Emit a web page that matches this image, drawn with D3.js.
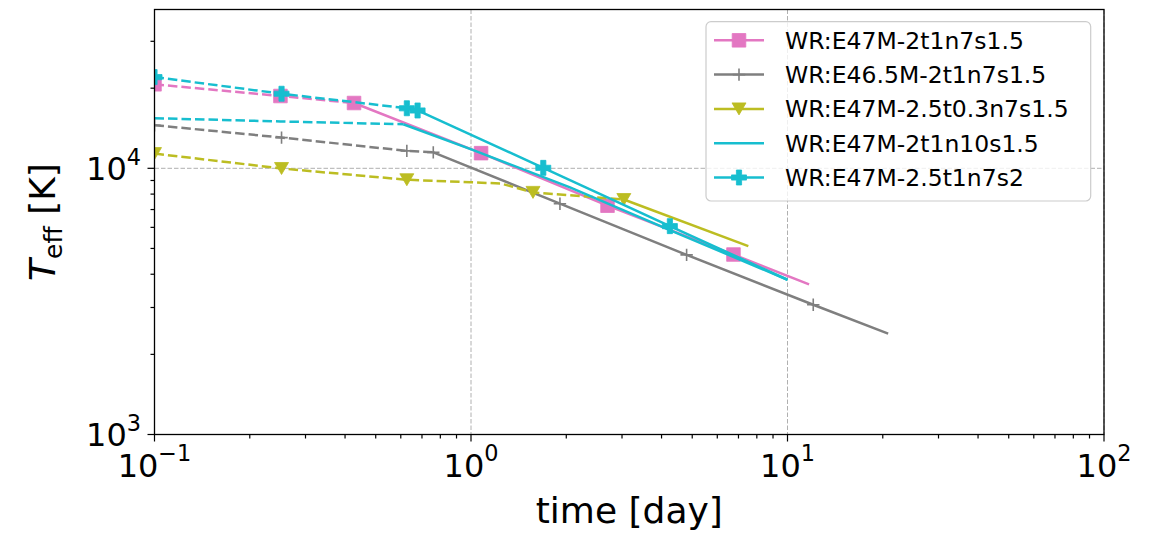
<!DOCTYPE html>
<html>
<head>
<meta charset="utf-8">
<script src="https://cdn.jsdelivr.net/npm/d3@7"></script>
<style>
  html, body { margin: 0; padding: 0; background: #fff; }
  svg { display: block; font-family: "DejaVu Sans", sans-serif; }
</style>
</head>
<body>
<svg id="chart" width="1165" height="536"></svg>
<script>
// ---- data: time [day] and effective temperature [K] ----
// each model has an early (dashed) phase and a late (solid) phase
const seriesLabels = [
  "WR:E47M-2t1n7s1.5",
  "WR:E46.5M-2t1n7s1.5",
  "WR:E47M-2.5t0.3n7s1.5",
  "WR:E47M-2t1n10s1.5",
  "WR:E47M-2.5t1n7s2"
];

const e47EarlyTime = [0.1, 0.25, 0.427];
const e47EarlyTeff = [20680, 18690, 17590];
const e47LateTime  = [0.427, 1.076, 2.70, 6.75, 11.7];
const e47LateTeff  = [17590, 11400, 7237, 4743, 3662];

const e465EarlyTime = [0.1, 0.252, 0.627, 0.76];
const e465EarlyTeff = [14520, 13045, 11630, 11480];
const e465LateTime  = [0.76, 1.91, 4.80, 12.06, 20.8];
const e465LateTeff  = [11480, 7362, 4730, 3073, 2393];

const t03EarlyTime = [0.1, 0.252, 0.627, 1.0, 1.24, 1.57, 3.04];
const t03EarlyTeff = [11360, 9984, 9057, 8862, 8770, 8120, 7634];
const t03LateTime  = [3.04, 7.52];
const t03LateTeff  = [7634, 5104];

const n10EarlyTime = [0.1, 0.25, 0.611];
const n10EarlyTeff = [15420, 15000, 14640];
const n10LateTime  = [0.611, 1.017, 2.055, 4.57, 10.0];
const n10LateTeff  = [14640, 11700, 8475, 5650, 3814];

const s2EarlyTime = [0.1, 0.252, 0.627, 0.678];
const s2EarlyTeff = [22010, 19060, 16810, 16490];
const s2LateTime  = [0.678, 1.692, 4.25, 10.0];
const s2LateTeff  = [16490, 10040, 6064, 3814];

// axis tick labels (mantissa, exponent)
const xTickValues = [0.1, 1, 10, 100];
const xTickLabels = [["10", "\u22121"], ["10", "0"], ["10", "1"], ["10", "2"]];
const yTickValues = [1000, 10000];
const yTickLabels = [["10", "3"], ["10", "4"]];

// ---- styling ----
const styles = [
  { color: "#e377c2", marker: "square",   earlyMarks: [0, 1],    lateMarks: [0, 1, 2, 3] },
  { color: "#7f7f7f", marker: "plus",     earlyMarks: [0, 1, 2], lateMarks: [0, 1, 2, 3] },
  { color: "#bcbd22", marker: "triDown",  earlyMarks: [0, 1, 2, 5], lateMarks: [0] },
  { color: "#17becf", marker: null,       earlyMarks: [],        lateMarks: [] },
  { color: "#17becf", marker: "plusFill", earlyMarks: [0, 1, 2], lateMarks: [0, 1, 2] }
];

const phases = [
  [e47EarlyTime, e47EarlyTeff, e47LateTime, e47LateTeff],
  [e465EarlyTime, e465EarlyTeff, e465LateTime, e465LateTeff],
  [t03EarlyTime, t03EarlyTeff, t03LateTime, t03LateTeff],
  [n10EarlyTime, n10EarlyTeff, n10LateTime, n10LateTeff],
  [s2EarlyTime, s2EarlyTeff, s2LateTime, s2LateTeff]
];

const zip = (ts, ks) => ts.map((t, i) => ({ t, k: ks[i], i }));

// ---- layout ----
const plot = { left: 154.5, right: 1104, top: 9.5, bottom: 434.5 };
const svg = d3.select("#chart");

const x = d3.scaleLog().domain([0.1, 100]).range([plot.left, plot.right]);
const y = d3.scaleLog().domain([1000, 39500]).range([plot.bottom, plot.top]);

svg.append("defs").append("clipPath").attr("id", "plotClip")
  .append("rect")
  .attr("x", plot.left).attr("y", plot.top)
  .attr("width", plot.right - plot.left).attr("height", plot.bottom - plot.top);

// grid on major ticks
const grid = svg.append("g").attr("stroke", "#b0b0b0").attr("stroke-width", 1)
  .attr("stroke-dasharray", "4.5,2");
grid.selectAll(".gx").data(xTickValues).join("line")
  .attr("x1", d => x(d)).attr("x2", d => x(d))
  .attr("y1", plot.top).attr("y2", plot.bottom);
grid.selectAll(".gy").data(yTickValues).join("line")
  .attr("x1", plot.left).attr("x2", plot.right)
  .attr("y1", d => y(d)).attr("y2", d => y(d));

// marker shapes
function markerPath(type) {
  if (type === "square") { const s = 6.8; return `M${-s},${-s}H${s}V${s}H${-s}Z`; }
  if (type === "plus") { const s = 6.2; return `M${-s},0H${s}M0,${-s}V${s}`; }
  if (type === "triDown") { return "M-7,-6L7,-6L0,6Z"; }
  if (type === "plusFill") {
    const a = 7.5, b = 2.6;
    return `M${-b},${-a}H${b}V${-b}H${a}V${b}H${b}V${a}H${-b}V${b}H${-a}V${-b}H${-b}Z`;
  }
  return "";
}
function drawMarker(g, type, color, px, py) {
  const p = g.append("path").attr("d", markerPath(type))
    .attr("transform", `translate(${px},${py})`);
  if (type === "plus") p.attr("fill", "none").attr("stroke", color).attr("stroke-width", 1.6);
  else p.attr("fill", color).attr("stroke", color).attr("stroke-width", 0.8);
}

const lineWidth = 2.5;
const line = d3.line().x(d => x(d.t)).y(d => y(d.k));
const marks = svg.append("g").attr("clip-path", "url(#plotClip)");

phases.forEach((ph, si) => {
  const st = styles[si];
  const early = zip(ph[0], ph[1]);
  const late = zip(ph[2], ph[3]);
  const g = marks.append("g");
  g.append("path").datum(early).attr("d", line)
    .attr("fill", "none").attr("stroke", st.color).attr("stroke-width", lineWidth)
    .attr("stroke-dasharray", "9.5,4");
  if (st.marker) early.filter(d => st.earlyMarks.includes(d.i))
    .forEach(d => drawMarker(g, st.marker, st.color, x(d.t), y(d.k)));
  g.append("path").datum(late).attr("d", line)
    .attr("fill", "none").attr("stroke", st.color).attr("stroke-width", lineWidth);
  if (st.marker) late.filter(d => st.lateMarks.includes(d.i))
    .forEach(d => drawMarker(g, st.marker, st.color, x(d.t), y(d.k)));
});

// spines
svg.append("rect")
  .attr("x", plot.left).attr("y", plot.top)
  .attr("width", plot.right - plot.left).attr("height", plot.bottom - plot.top)
  .attr("fill", "none").attr("stroke", "#000").attr("stroke-width", 1.3);

// ticks
const isMajor = v => Math.abs(Math.log10(v) - Math.round(Math.log10(v))) < 1e-9;
const ticks = svg.append("g").attr("stroke", "#000").attr("stroke-width", 1.2);
ticks.selectAll(".tx").data(x.ticks()).join("line")
  .attr("x1", d => x(d)).attr("x2", d => x(d))
  .attr("y1", plot.bottom).attr("y2", d => plot.bottom + (isMajor(d) ? 7 : 4));
ticks.selectAll(".ty").data(y.ticks()).join("line")
  .attr("y1", d => y(d)).attr("y2", d => y(d))
  .attr("x1", plot.left).attr("x2", d => plot.left - (isMajor(d) ? 7 : 4));

// tick labels
const xl = svg.append("g").attr("font-size", 32).attr("fill", "#000").attr("text-anchor", "middle");
xTickValues.forEach((v, i) => {
  const t = xl.append("text").attr("x", x(v)).attr("y", 476.5);
  t.append("tspan").text(xTickLabels[i][0]);
  t.append("tspan").attr("font-size", 22.4).attr("dy", -15.2).text(xTickLabels[i][1]);
});
const yl = svg.append("g").attr("font-size", 32).attr("fill", "#000").attr("text-anchor", "end");
yTickValues.forEach((v, i) => {
  const t = yl.append("text").attr("x", 141).attr("y", y(v) + 11.7);
  t.append("tspan").text(yTickLabels[i][0]);
  t.append("tspan").attr("font-size", 22.4).attr("dy", -15.2).text(yTickLabels[i][1]);
});

// axis labels
svg.append("text").attr("x", (plot.left + plot.right) / 2).attr("y", 523)
  .attr("text-anchor", "middle").attr("font-size", 36).text("time [day]");
const ylab = svg.append("text")
  .attr("transform", `translate(55,${(plot.top + plot.bottom) / 2}) rotate(-90)`)
  .attr("text-anchor", "middle").attr("font-size", 36);
ylab.append("tspan").attr("font-style", "italic").text("T");
ylab.append("tspan").attr("font-size", 25).attr("dy", 7).text("eff");
ylab.append("tspan").attr("dy", -7).text(" [K]");

// legend
const leg = svg.append("g");
leg.append("rect").attr("x", 706).attr("y", 21.7).attr("width", 384.7).attr("height", 179.3)
  .attr("rx", 5).attr("fill", "#fff").attr("fill-opacity", 0.8)
  .attr("stroke", "#cccccc").attr("stroke-width", 1.2);
seriesLabels.forEach((lab, i) => {
  const cy = 40.3 + i * 34.3;
  const st = styles[i];
  leg.append("line").attr("x1", 714).attr("x2", 764).attr("y1", cy).attr("y2", cy)
    .attr("stroke", st.color).attr("stroke-width", lineWidth);
  if (st.marker) drawMarker(leg, st.marker, st.color, 739, cy);
  leg.append("text").attr("x", 785).attr("y", cy + 8.4)
    .attr("font-size", 23.5).attr("fill", "#000").text(lab);
});
</script>
</body>
</html>
